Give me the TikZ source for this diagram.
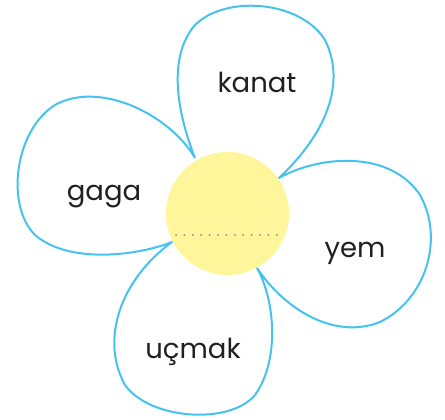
\documentclass[tikz,border=0pt]{standalone}
\usepackage{fontspec}
\setmainfont{Poppins}
\definecolor{petal}{HTML}{45C3EE}
\definecolor{center}{HTML}{FFF59A}
\definecolor{dots}{HTML}{8C8C8C}
\definecolor{ink}{HTML}{231F20}
\tikzset{
  petalline/.style={draw=petal, line width=2pt, line join=round},
  word/.style={font=\fontsize{27.5}{30}\selectfont, text=ink, inner sep=0pt, anchor=base},
}
\begin{document}
\begin{tikzpicture}[x=1pt,y=-1pt]
\useasboundingbox (0,0) rectangle (445,420);
% junction points on the centre circle
\coordinate (j1) at (195,158);
\coordinate (j2) at (279,178);
\coordinate (j3) at (257,268);
\coordinate (j4) at (172,242);
% petals
\draw[petalline]
  (j1) .. controls (180,120) and (165,60) .. (195,25)
       .. controls (225,-5) and (300,0) .. (325,40)
       .. controls (345,80) and (330,130) .. (j2)
       .. controls (320,155) and (390,150) .. (420,195)
       .. controls (445,240) and (425,300) .. (380,322)
       .. controls (335,340) and (285,310) .. (j3)
       .. controls (275,300) and (280,360) .. (255,395)
       .. controls (230,425) and (150,420) .. (125,385)
       .. controls (100,340) and (120,280) .. (j4)
       .. controls (140,255) and (70,265) .. (35,235)
       .. controls (5,205) and (15,130) .. (55,105)
       .. controls (100,80) and (170,115) .. (j1);
% centre
\node[circle, fill=center, minimum size=123pt, inner sep=0pt] (c) at (227.5,213.5) {};
\coordinate (dl) at (176,235);
\coordinate (dr) at (277,235);
\draw[dots, line width=2pt, line cap=round, dash pattern=on 0pt off 8.4pt] (dl) -- (dr);
% words
\node[word] (kanat) at (257,93) {kanat};
\node[word] (gaga) at (104,200) {gaga};
\node[word] (yem) at (355,257) {yem};
\node[word] (ucmak) at (193,358) {uçmak};
\end{tikzpicture}
\end{document}
